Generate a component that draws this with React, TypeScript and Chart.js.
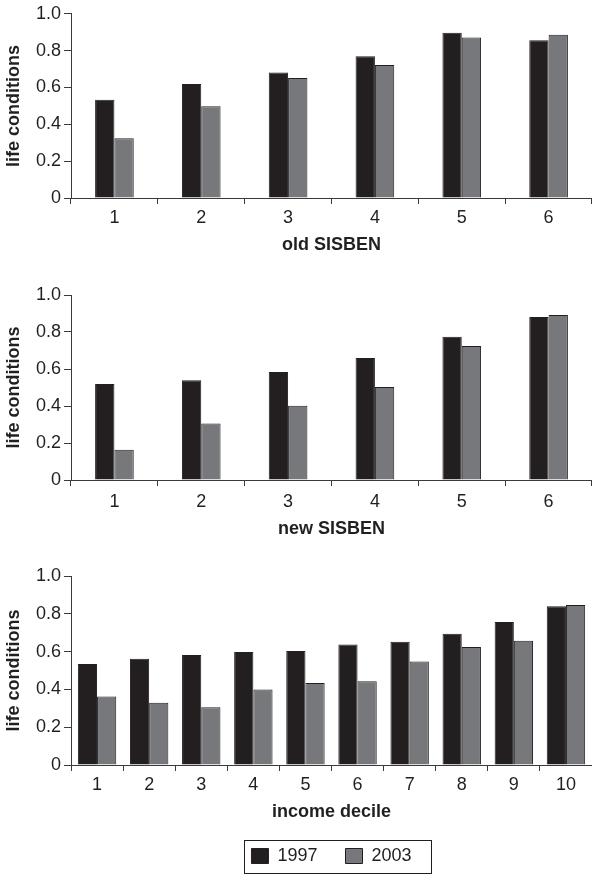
import React, { useEffect, useRef } from "react";
import { Chart, registerables } from "chart.js";

Chart.register(...registerables);

// ---- data ----
const sisbenCategories = ["1", "2", "3", "4", "5", "6"];
const decileCategories = ["1", "2", "3", "4", "5", "6", "7", "8", "9", "10"];
const seriesLabels = ["1997", "2003"];

const oldSisben1997 = [0.534, 0.619, 0.681, 0.77, 0.897, 0.856];
const oldSisben2003 = [0.324, 0.498, 0.651, 0.722, 0.872, 0.886];

const newSisben1997 = [0.519, 0.539, 0.584, 0.659, 0.775, 0.881];
const newSisben2003 = [0.164, 0.306, 0.402, 0.503, 0.724, 0.892];

const decile1997 = [0.534, 0.562, 0.582, 0.598, 0.603, 0.638, 0.652, 0.695, 0.757, 0.84];
const decile2003 = [0.362, 0.33, 0.305, 0.399, 0.434, 0.443, 0.548, 0.624, 0.658, 0.846];

const yTitle = "life conditions";

// ---- styles ----
const FONT = "'Liberation Sans', Arial, Helvetica, sans-serif";
const INK = "#231f20";
const DARK_FILL = "#231f20";
const GREY_FILL = "#77787b";
const AXIS = "#3a3a3a";

const legendFramePlugin = {
  id: "legendFrame",
  afterDraw(chart: any) {
    const lg = chart.legend;
    if (!lg || !lg.options.display || !lg.legendHitBoxes || !lg.legendHitBoxes.length) return;
    const boxes = lg.legendHitBoxes;
    const left = Math.min(...boxes.map((b: any) => b.left));
    const right = Math.max(...boxes.map((b: any) => b.left + b.width));
    const top = Math.min(...boxes.map((b: any) => b.top));
    const bottom = Math.max(...boxes.map((b: any) => b.top + b.height));
    const ctx = chart.ctx;
    ctx.save();
    ctx.strokeStyle = INK;
    ctx.lineWidth = 1;
    const x0 = Math.round(left - 7) + 0.5;
    const x1 = Math.round(right + 19) + 0.5;
    const y0 = Math.round(top - 7) + 0.5;
    const y1 = Math.round(bottom + 8) + 0.5;
    ctx.strokeRect(x0, y0, x1 - x0, y1 - y0);
    ctx.restore();
  },
};

type PanelProps = {
  labels: string[];
  a: number[];
  b: number[];
  xTitle: string;
  height: number;
  padTop: number;
  xScaleHeight: number;
  tickPad: number;
  titleOffsetPad: number;
  titleLineHeight: number;
  catPct: number;
  legend: boolean;
};

function Panel(p: PanelProps) {
  const ref = useRef<HTMLCanvasElement | null>(null);
  useEffect(() => {
    if (!ref.current) return;
    const chart = new Chart(ref.current, {
      type: "bar",
      data: {
        labels: p.labels,
        datasets: [
          {
            label: seriesLabels[0],
            data: p.a,
            backgroundColor: DARK_FILL,
            borderColor: INK,
            borderWidth: 1,
          },
          {
            label: seriesLabels[1],
            data: p.b,
            backgroundColor: GREY_FILL,
            borderColor: INK,
            borderWidth: 1,
          },
        ],
      },
      options: {
        responsive: false,
        animation: false,
        devicePixelRatio: 1,
        layout: { padding: { top: p.padTop, left: 0, right: 0, bottom: 0 } },
        datasets: {
          bar: { categoryPercentage: p.catPct, barPercentage: 1 },
        },
        plugins: {
          tooltip: { enabled: false },
          title: { display: false },
          legend: {
            display: p.legend,
            position: "bottom",
            fullSize: false,
            labels: {
              font: { family: FONT, size: 18 },
              color: INK,
              boxWidth: 17,
              boxHeight: 15,
              padding: 28,
            },
          },
        },
        scales: {
          x: {
            type: "category",
            offset: true,
            grid: {
              display: true,
              offset: true,
              drawOnChartArea: false,
              drawTicks: true,
              tickLength: 6,
              color: AXIS,
              lineWidth: 1,
            },
            border: { display: true, color: AXIS, width: 1 },
            ticks: {
              font: { family: FONT, size: 18 },
              color: INK,
              padding: p.tickPad,
              maxRotation: 0,
              autoSkip: false,
            },
            title: {
              display: true,
              text: p.xTitle,
              color: INK,
              font: { family: FONT, size: 18, weight: "bold", lineHeight: p.titleLineHeight },
              padding: { top: 0, bottom: p.titleOffsetPad },
            },
            afterFit: (scale: any) => {
              scale.height = p.xScaleHeight;
            },
          },
          y: {
            min: 0,
            max: 1,
            grid: {
              display: true,
              drawOnChartArea: false,
              drawTicks: true,
              tickLength: 7,
              color: AXIS,
              lineWidth: 1,
            },
            border: { display: true, color: AXIS, width: 1 },
            ticks: {
              stepSize: 0.2,
              font: { family: FONT, size: 18 },
              color: INK,
              padding: 3,
              callback: (v: any) => (Number(v) === 0 ? "0" : Number(v).toFixed(1)),
            },
            title: {
              display: true,
              text: yTitle,
              color: INK,
              font: { family: FONT, size: 18, weight: "bold" },
              padding: { top: 3, bottom: 0 },
            },
            afterFit: (scale: any) => {
              scale.width = 71;
            },
          },
        },
      } as any,
      plugins: p.legend ? [legendFramePlugin] : [],
    });
    return () => chart.destroy();
  }, []);
  return (
    <canvas
      ref={ref}
      width={592}
      height={p.height}
      style={{ display: "block", width: 592, height: p.height }}
    />
  );
}

export default function App() {
  return (
    <div style={{ position: "absolute", left: 0, top: 0, width: 592, height: 875, background: "#fff" }}>
      <Panel
        labels={sisbenCategories}
        a={oldSisben1997}
        b={oldSisben2003}
        xTitle="old SISBEN"
        height={270}
        padTop={11}
        xScaleHeight={72}
        tickPad={3.5}
        titleOffsetPad={14}
        titleLineHeight={1.2}
        catPct={0.445}
        legend={false}
      />
      <Panel
        labels={sisbenCategories}
        a={newSisben1997}
        b={newSisben2003}
        xTitle="new SISBEN"
        height={275}
        padTop={25}
        xScaleHeight={65}
        tickPad={5}
        titleOffsetPad={5}
        titleLineHeight={1.2}
        catPct={0.445}
        legend={false}
      />
      <Panel
        labels={decileCategories}
        a={decile1997}
        b={decile2003}
        xTitle="income decile"
        height={330}
        padTop={31}
        xScaleHeight={54}
        tickPad={3.5}
        titleOffsetPad={0}
        titleLineHeight={0.81}
        catPct={0.737}
        legend={true}
      />
    </div>
  );
}
